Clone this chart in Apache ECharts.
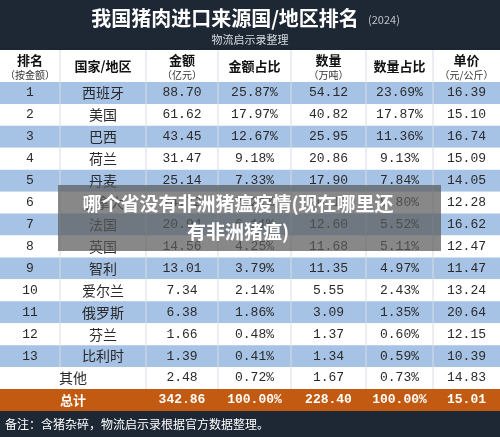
<!DOCTYPE html>
<html><head><meta charset="utf-8">
<script src="https://cdn.jsdelivr.net/npm/echarts@6/dist/echarts.min.js"></script>
<style>html,body{margin:0;padding:0;background:#fff}#c{width:500px;height:437px}</style>
</head><body><div id="c"></div>
<script>
const ranks = ['1','2','3','4','5','6','7','8','9','10','11','12','13',''];
const countries = ['西班牙','美国','巴西','荷兰','丹麦','加拿大','法国','英国','智利','爱尔兰','俄罗斯','芬兰','比利时','其他'];
const amounts = ['88.70','61.62','43.45','31.47','25.14','24.72','20.94','14.56','13.01','7.34','6.38','1.66','1.39','2.48'];
const amountShares = ['25.87%','17.97%','12.67%','9.18%','7.33%','7.21%','6.11%','4.25%','3.79%','2.14%','1.86%','0.48%','0.41%','0.72%'];
const quantities = ['54.12','40.82','25.95','20.86','17.90','20.10','12.60','11.68','11.35','5.55','3.09','1.37','1.34','1.67'];
const quantityShares = ['23.69%','17.87%','11.36%','9.13%','7.84%','8.80%','5.52%','5.11%','4.97%','2.43%','1.35%','0.60%','0.59%','0.73%'];
const prices = ['16.39','15.10','16.74','15.09','14.05','12.28','16.62','12.47','11.47','13.24','20.64','12.15','10.39','14.83'];
const totalRow = ['总计','342.86','100.00%','228.40','100.00%','15.01'];
const headers = [['排名','（按金额）'],['国家/地区',''],['金额','（亿元）'],['金额占比',''],['数量','（万吨）'],['数量占比',''],['单价','（元/公斤）']];
const title = '我国猪肉进口来源国/地区排名';
const subtitle = '物流启示录整理';
const note = '备注：含猪杂碎，物流启示录根据官方数据整理。';
const overlay = '哪个省没有非洲猪瘟疫情(现在哪里还\n有非洲猪瘟)';

const colX = [0,60,146,218,291,366,433,500];
const headTop = 50, headH = 32, rowTop = 82, rowH = 21.93, totTop = 389, totH = 22;
const numFont = '"Liberation Mono","Noto Sans CJK SC",monospace';
const cjk = '"Noto Sans CJK SC",sans-serif';
const g = [];
const cx = i => (colX[i]+colX[i+1])/2;
g.push({type:'rect',shape:{x:0,y:0,width:500,height:50},style:{fill:'#1e2734'}});
g.push({type:'text',x:225,y:18,style:{text:title,fill:'#fff',font:'bold 20px '+cjk,align:'center',verticalAlign:'middle'}});
g.push({type:'text',x:368,y:20,style:{text:'(2024)',fill:'#bfc5cc',font:'11px '+cjk,align:'left',verticalAlign:'middle'}});
g.push({type:'text',x:250,y:40,style:{text:subtitle,fill:'#d8dde2',font:'11px '+cjk,align:'center',verticalAlign:'middle'}});
g.push({type:'rect',shape:{x:0,y:headTop,width:500,height:headH},style:{fill:'#fff'}});
headers.forEach((h,i)=>{
  if(h[1]){
    g.push({type:'text',x:cx(i),y:headTop+10,style:{text:h[0],fill:'#111',font:'bold 13px '+cjk,align:'center',verticalAlign:'middle'}});
    g.push({type:'text',x:cx(i),y:headTop+25,style:{text:h[1],fill:'#333',font:'10px '+cjk,align:'center',verticalAlign:'middle'}});
  } else g.push({type:'text',x:cx(i),y:headTop+16,style:{text:h[0],fill:'#111',font:'bold 13px '+cjk,align:'center',verticalAlign:'middle'}});
});
const cols = [ranks,countries,amounts,amountShares,quantities,quantityShares,prices];
countries.forEach((c,r)=>{
  const y = rowTop + r*rowH;
  g.push({type:'rect',shape:{x:0,y:y,width:500,height:rowH},style:{fill: r%2===0 ? '#a6c3e6':'#ffffff'}});
  cols.forEach((col,i)=>{
    let x = cx(i);
    if(r===13 && i===1) x = 73;
    g.push({type:'text',x:x,y:y+rowH/2,style:{text:col[r],fill:'#2a2a2a',font:(i===1?'14px '+cjk:'13px '+numFont),align:'center',verticalAlign:'middle'}});
  });
});
for(let i=1;i<7;i++){
  const yEnd = i===1 ? totTop - rowH : totTop;
  g.push({type:'line',shape:{x1:colX[i],y1:headTop,x2:colX[i],y2:yEnd},style:{stroke:'#d8dde3',lineWidth:1}});
}
g.push({type:'rect',shape:{x:0,y:totTop,width:500,height:totH},style:{fill:'#c25a12'}});
totalRow.forEach((t,i)=>{
  const x = i===0 ? 73 : cx(i+1);
  g.push({type:'text',x:x,y:totTop+totH/2,style:{text:t,fill:'#fff',font:'bold 13px '+(i===0?cjk:numFont),align:'center',verticalAlign:'middle'}});
});
g.push({type:'rect',shape:{x:0,y:totTop+totH,width:500,height:437-totTop-totH},style:{fill:'#1e2734'}});
g.push({type:'text',x:5,y:424,style:{text:note,fill:'#fff',font:'12px '+cjk,align:'left',verticalAlign:'middle'}});
g.push({type:'rect',shape:{x:58,y:185,width:383,height:66},style:{fill:'rgba(90,90,90,0.72)'}});
g.push({type:'text',x:238,y:218,style:{text:overlay,fill:'#fff',font:'bold 19px '+cjk,align:'center',verticalAlign:'middle',lineHeight:28}});
const chart = echarts.init(document.getElementById('c'));
chart.setOption({animation:false,graphic:{elements:g}});
</script></body></html>
